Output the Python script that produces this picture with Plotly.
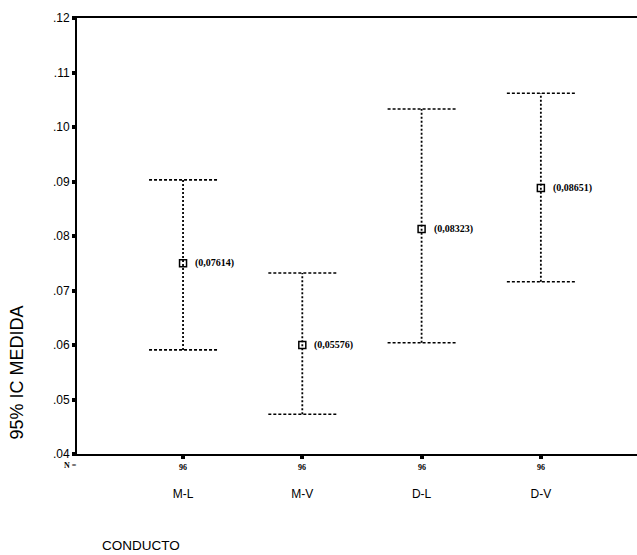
import plotly.graph_objects as go

categories = ["M-L", "M-V", "D-L", "D-V"]
n_values = ["96", "96", "96", "96"]
means = [0.0750, 0.0600, 0.0813, 0.0888]
lower = [0.0591, 0.0473, 0.0604, 0.0716]
upper = [0.0903, 0.0732, 0.1033, 0.1062]
mean_labels = ["(0,07614)", "(0,05576)", "(0,08323)", "(0,08651)"]
y_ticks = [0.04, 0.05, 0.06, 0.07, 0.08, 0.09, 0.10, 0.11, 0.12]
y_ticktext = [".04", ".05", ".06", ".07", ".08", ".09", ".10", ".11", ".12"]

xpos = list(range(len(categories)))
cap = 0.285

fig = go.Figure()

# vertical dotted whiskers
vx, vy = [], []
for i in xpos:
    vx += [i, i, None]
    vy += [lower[i], upper[i], None]
fig.add_trace(go.Scatter(x=vx, y=vy, mode="lines",
                         line=dict(color="black", width=1.8, dash="2px,2px"),
                         hoverinfo="skip", showlegend=False))

# dashed caps
cx, cy = [], []
for i in xpos:
    for v in (lower[i], upper[i]):
        cx += [i - cap, i + cap, None]
        cy += [v, v, None]
fig.add_trace(go.Scatter(x=cx, y=cy, mode="lines",
                         line=dict(color="black", width=1.6, dash="3px,2px"),
                         hoverinfo="skip", showlegend=False))

# means
fig.add_trace(go.Scatter(x=xpos, y=means, mode="markers",
                         marker=dict(symbol="square-open", size=7, color="black",
                                     line=dict(width=1.5, color="black")),
                         showlegend=False))
for i in xpos:
    fig.add_annotation(x=i, y=means[i], xref="x", yref="y", text=mean_labels[i],
                       showarrow=False, xanchor="left", xshift=10,
                       font=dict(family="Liberation Serif", size=10, color="black",
                                 weight="bold"))

# N values
for i in xpos:
    fig.add_annotation(x=i, y=-0.03, xref="x", yref="paper", text=n_values[i],
                       showarrow=False, yanchor="middle",
                       font=dict(family="Liberation Serif", size=8,
                                 color="black", weight="bold"))
fig.add_annotation(x=-0.026, y=-0.026, xref="paper", yref="paper", text="N =",
                   showarrow=False, xanchor="left", yanchor="middle",
                   font=dict(family="Liberation Serif", size=8, color="black", weight="bold"))

fig.add_annotation(x=-0.107, y=0.187, xref="paper", yref="paper", text="95% IC MEDIDA",
                   showarrow=False, textangle=-90, yanchor="middle", xanchor="center",
                   font=dict(family="Liberation Sans", size=18, color="black"))
fig.add_annotation(x=0.041, y=-0.209, xref="paper", yref="paper", text="CONDUCTO",
                   showarrow=False, xanchor="left", yanchor="middle",
                   font=dict(family="Liberation Sans", size=13.5, color="black"))

fig.update_xaxes(range=[-0.889, 3.806], tickvals=xpos, ticktext=categories,
                 showline=True, linecolor="black", linewidth=1.5, mirror=True,
                 ticks="outside", ticklen=3, tickwidth=4, tickcolor="black",
                 ticklabelstandoff=25, showgrid=False, zeroline=False,
                 tickfont=dict(family="Liberation Sans", size=12, color="black"))
fig.update_yaxes(range=[0.04, 0.12], tickvals=y_ticks, ticktext=y_ticktext,
                 showline=True, linecolor="black", linewidth=2,
                 ticks="outside", ticklen=3, tickwidth=4, tickcolor="black",
                 showgrid=False, zeroline=False,
                 tickfont=dict(family="Liberation Sans", size=12, color="black"))

fig.update_layout(width=637, height=555, margin=dict(l=77, r=0, t=18, b=101),
                  paper_bgcolor="white", plot_bgcolor="white")

fig.write_html("out.html")
